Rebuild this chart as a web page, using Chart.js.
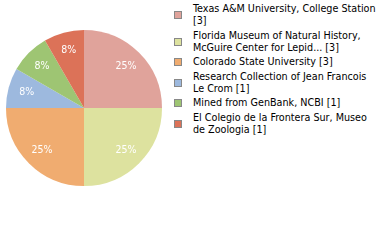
<!DOCTYPE html>
<html><head><meta charset="utf-8">
<script src="https://cdn.jsdelivr.net/npm/chart.js@4"></script>
<style>
body{margin:0;background:#fff;font-family:"DejaVu Sans Condensed","DejaVu Sans",sans-serif;}
#wrap{position:absolute;left:0;top:0;width:168px;height:216px;}
#legend{position:absolute;left:174px;top:3px;width:204px;font-size:10.7px;line-height:12px;color:#000;}
.item{position:relative;padding-left:19px;margin-bottom:2.5px;}
.sw{position:absolute;left:0;top:50%;width:6px;height:6px;margin-top:-4px;border:1px solid #888;}
</style>
</head><body>
<div id="wrap"><canvas id="c"></canvas></div>
<div id="legend"></div>
<script>
const categories = [
  "Texas A&M University, College Station",
  "Florida Museum of Natural History, McGuire Center for Lepid...",
  "Colorado State University",
  "Research Collection of Jean Francois Le Crom",
  "Mined from GenBank, NCBI",
  "El Colegio de la Frontera Sur, Museo de Zoologia"
];
const counts = [3, 3, 3, 1, 1, 1];
const percentLabels = ["25%", "25%", "25%", "8%", "8%", "8%"];
const colors = ["#e0a39b", "#dde29f", "#f0ac70", "#9db9de", "#9ec573", "#dc7258"];

const lg = document.getElementById('legend');
categories.forEach((name, i) => {
  const d = document.createElement('div');
  d.className = 'item';
  const sw = document.createElement('span');
  sw.className = 'sw';
  sw.style.background = colors[i];
  d.appendChild(sw);
  d.appendChild(document.createTextNode(name + ' [' + counts[i] + ']'));
  lg.appendChild(d);
});

const sliceLabels = {
  id: 'sliceLabels',
  afterDatasetsDraw(chart) {
    const ctx = chart.ctx;
    const meta = chart.getDatasetMeta(0);
    ctx.save();
    ctx.fillStyle = '#fff';
    ctx.font = '10.5px "DejaVu Sans Condensed", "DejaVu Sans", sans-serif';
    ctx.textAlign = 'center';
    ctx.textBaseline = 'middle';
    meta.data.forEach((arc, i) => {
      const p = arc.getProps(['x','y','startAngle','endAngle','outerRadius'], true);
      const a = (p.startAngle + p.endAngle) / 2;
      const r = p.outerRadius * 0.76;
      ctx.fillText(percentLabels[i], p.x + Math.cos(a) * r, p.y + Math.sin(a) * r);
    });
    ctx.restore();
  }
};

new Chart(document.getElementById('c'), {
  type: 'pie',
  data: {
    labels: categories,
    datasets: [{ data: counts, backgroundColor: colors, borderWidth: 0 }]
  },
  options: {
    responsive: true,
    maintainAspectRatio: false,
    animation: false,
    layout: { padding: 6 },
    plugins: { legend: { display: false }, tooltip: { enabled: false } }
  },
  plugins: [sliceLabels]
});
</script></body></html>
